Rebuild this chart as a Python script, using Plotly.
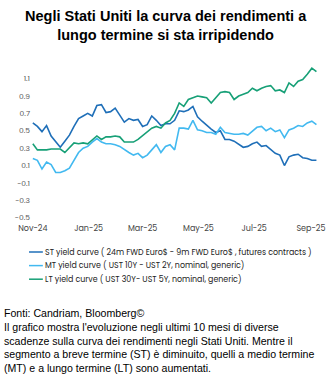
import pandas as pd
import plotly.graph_objects as go

# Observation dates (every 5 days, Nov 2024 - Sep 2025)
dates = pd.date_range("2024-11-01", periods=63, freq="5D")

st_curve = [0.59, 0.55, 0.49, 0.56, 0.44, 0.37, 0.31, 0.38, 0.45, 0.55,
            0.64, 0.67, 0.70, 0.67, 0.79, 0.80, 0.71, 0.72, 0.76, 0.68,
            0.60, 0.64, 0.62, 0.63, 0.55, 0.57, 0.67, 0.62, 0.56, 0.58,
            0.58, 0.62, 0.73, 0.72, 0.74, 0.78, 0.66, 0.61, 0.56, 0.52,
            0.48, 0.50, 0.40, 0.40, 0.38, 0.34, 0.31, 0.32, 0.35, 0.37,
            0.32, 0.33, 0.29, 0.24, 0.22, 0.10, 0.20, 0.22, 0.23, 0.19,
            0.18, 0.16, 0.16]

mt_curve = [0.18, 0.16, 0.06, 0.14, 0.11, 0.02, 0.02, 0.04, 0.07, 0.16,
            0.25, 0.30, 0.32, 0.37, 0.41, 0.37, 0.35, 0.35, 0.34, 0.32,
            0.28, 0.25, 0.22, 0.24, 0.19, 0.22, 0.28, 0.34, 0.25, 0.32,
            0.34, 0.28, 0.53, 0.53, 0.52, 0.62, 0.51, 0.50, 0.48, 0.48,
            0.46, 0.54, 0.48, 0.47, 0.46, 0.46, 0.47, 0.45, 0.50, 0.54,
            0.55, 0.50, 0.53, 0.49, 0.51, 0.42, 0.51, 0.53, 0.56, 0.55,
            0.59, 0.61, 0.57]

lt_curve = [0.35, 0.28, 0.28, 0.28, 0.29, 0.29, 0.29, 0.25, 0.31, 0.36,
            0.35, 0.36, 0.35, 0.40, 0.44, 0.40, 0.43, 0.43, 0.44, 0.43,
            0.37, 0.37, 0.37, 0.40, 0.44, 0.49, 0.53, 0.55, 0.53, 0.59,
            0.62, 0.70, 0.82, 0.78, 0.86, 0.88, 0.90, 0.89, 0.88, 0.82,
            0.88, 0.94, 0.95, 0.94, 0.86, 0.90, 0.92, 0.94, 0.99, 0.96,
            0.99, 1.01, 1.02, 0.96, 0.97, 0.94, 1.05, 1.01, 1.07, 1.09,
            1.15, 1.22, 1.18]

series_names = [
    "ST yield curve ( 24m FWD Euro$ - 9m FWD Euro$ , futures contracts )",
    "MT yield curve ( UST 10Y - UST 2Y, nominal, generic)",
    "LT yield curve ( UST 30Y- UST 5Y, nominal, generic)",
]
series_colors = ["#1f6fb8", "#42b9f0", "#17a077"]

y_ticks = [1.1, 0.9, 0.7, 0.5, 0.3, 0.1, -0.1, -0.3, -0.5]
x_ticks = ["2024-11-01", "2025-01-01", "2025-03-01", "2025-05-01",
           "2025-07-01", "2025-09-01"]
x_tick_labels = ["Nov-24", "Jan-25", "Mar-25", "May-25", "Jul-25", "Sep-25"]

title_text = "<b>Negli Stati Uniti la curva dei rendimenti a<br>lungo termine si sta irripidendo</b>"
footer_text = ("Fonti: Candriam, Bloomberg©<br>"
               "Il grafico mostra l'evoluzione negli ultimi 10 mesi di diverse<br>"
               "scadenze sulla curva dei rendimenti negli Stati Uniti. Mentre il<br>"
               "segmento a breve termine (ST) è diminuito, quelli a medio termine<br>"
               "(MT) e a lungo termine (LT) sono aumentati.")

W, H = 335, 387
ML, MR, MT, MB = 31, 10, 63, 165
PW, PH = W - ML - MR, H - MT - MB


def px_x(x):
    return (x - ML) / PW


def px_y(y):
    return (H - MB - y) / PH


fig = go.Figure()
for name, vals, col in zip(series_names, [st_curve, mt_curve, lt_curve], series_colors):
    fig.add_trace(go.Scatter(x=dates, y=vals, mode="lines", name=name,
                             line=dict(color=col, width=1.6), showlegend=False))

# Legend below the plot: short line sample followed by its label
for i, (name, col) in enumerate(zip(series_names, series_colors)):
    row_y = px_y(252 + i * 13.6)
    fig.add_shape(type="line", xref="paper", yref="paper",
                  x0=px_x(29), x1=px_x(43), y0=row_y, y1=row_y,
                  line=dict(color=col, width=1.5))
    fig.add_annotation(xref="paper", yref="paper", x=px_x(43.5), y=row_y,
                       text=name, showarrow=False, xanchor="left", yanchor="middle",
                       font=dict(family="Poppins, Inter, sans-serif", size=7.9, color="#222"))

fig.add_annotation(xref="paper", yref="paper", x=px_x(167.5), y=px_y(25),
                   text=title_text, showarrow=False, xanchor="center", yanchor="middle",
                   font=dict(family="Liberation Sans, Arial", size=14.5, color="#000"))

fig.add_annotation(xref="paper", yref="paper", x=px_x(2), y=px_y(305),
                   text=footer_text, showarrow=False, xanchor="left", yanchor="top", align="left",
                   font=dict(family="Liberation Sans, Arial", size=10.6, color="#000"))

fig.update_layout(
    width=W, height=H,
    margin=dict(l=ML, r=MR, t=MT, b=MB),
    paper_bgcolor="white", plot_bgcolor="white",
    xaxis=dict(range=["2024-10-30", "2025-09-12"], tickvals=x_ticks, ticktext=x_tick_labels,
               showgrid=False, zeroline=False, showline=False, ticks="",
               tickfont=dict(family="Poppins, Inter, sans-serif", size=8, color="#444")),
    yaxis=dict(range=[-0.55, 1.28], tickvals=y_ticks, ticktext=[str(v) for v in y_ticks],
               showgrid=False, zeroline=False, showline=False, ticks="",
               tickfont=dict(family="Poppins, Inter, sans-serif", size=7.5, color="#555")),
)

fig.write_html("out.html")
